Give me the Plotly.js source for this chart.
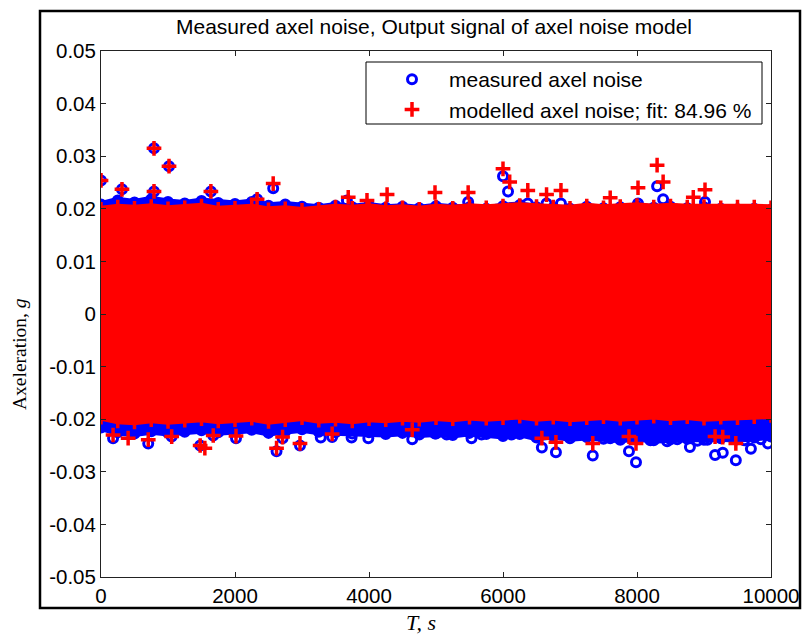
<!DOCTYPE html>
<html>
<head>
<meta charset="utf-8">
<script src="https://cdn.plot.ly/plotly-3.0.1.min.js"></script>
<style>
html,body{margin:0;padding:0;background:#fff;}
#chart{width:803px;height:636px;}
</style>
</head>
<body>
<div id="chart"></div>
<script>
// ---- data ----
// time grid of the dense band's envelope (s)
var envTime = [0,250,500,750,1000,1250,1500,1750,2000,2250,2500,2750,3000,3250,3500,3750,4000,4250,4500,4750,5000,5250,5500,5750,6000,6250,6500,6750,7000,7250,7500,7750,8000,8250,8500,8750,9000,9250,9500,9750,10000];
// measured axel noise: upper / lower envelope of the dense band (g)
var measUpper = [0.0208,0.0216,0.0212,0.0218,0.0213,0.0210,0.0215,0.0211,0.0209,0.0213,0.0206,0.0208,0.0204,0.0202,0.0206,0.0203,0.0206,0.0202,0.0204,0.0201,0.0205,0.0202,0.0203,0.0200,0.0205,0.0207,0.0203,0.0202,0.0200,0.0204,0.0201,0.0203,0.0205,0.0202,0.0204,0.0201,0.0203,0.0200,0.0199,0.0200,0.0198];
var measLower = [-0.0216,-0.0225,-0.0227,-0.0223,-0.0226,-0.0224,-0.0221,-0.0225,-0.0222,-0.0220,-0.0226,-0.0223,-0.0219,-0.0224,-0.0225,-0.0227,-0.0225,-0.0228,-0.0226,-0.0229,-0.0227,-0.0230,-0.0226,-0.0228,-0.0232,-0.0228,-0.0235,-0.0232,-0.0236,-0.0234,-0.0237,-0.0239,-0.0236,-0.0240,-0.0238,-0.0237,-0.0239,-0.0236,-0.0238,-0.0235,-0.0233];
// modelled axel noise: upper / lower envelope of the dense band (g)
var modelUpper = [0.0199,0.0203,0.0201,0.0204,0.0200,0.0202,0.0205,0.0199,0.0201,0.0203,0.0198,0.0200,0.0197,0.0199,0.0203,0.0201,0.0204,0.0200,0.0202,0.0199,0.0203,0.0201,0.0204,0.0202,0.0205,0.0206,0.0204,0.0203,0.0201,0.0205,0.0202,0.0204,0.0206,0.0203,0.0205,0.0203,0.0204,0.0202,0.0203,0.0203,0.0202];
var modelLower = [-0.0196,-0.0203,-0.0205,-0.0201,-0.0204,-0.0202,-0.0199,-0.0203,-0.0201,-0.0198,-0.0204,-0.0201,-0.0197,-0.0202,-0.0200,-0.0203,-0.0199,-0.0201,-0.0198,-0.0200,-0.0197,-0.0199,-0.0196,-0.0198,-0.0197,-0.0194,-0.0198,-0.0196,-0.0199,-0.0197,-0.0195,-0.0198,-0.0196,-0.0194,-0.0197,-0.0195,-0.0198,-0.0196,-0.0197,-0.0195,-0.0193];
// individual measured samples outside the band and at the record ends
var measT = [0,313,791,1015,791,1640,2330,2570,3670,6000,6075,6370,6650,6865,5480,8300,8015,9015,8390,
  180,705,1055,1480,1675,2015,2620,2710,2970,3280,3450,3740,3990,4645,4985,5160,5530,5680,6130,6580,6790,7340,7600,7880,7985,8790,9165,9280,9475,9700,9955,8200,8450,8600,8900,9050,9600,9850,
  0,0,0,0,0,0,10000,10000,10000,10000,10000,10000];
var measV = [0.0254,0.0237,0.0315,0.0281,0.0233,0.0233,0.0218,0.0239,0.0216,0.0262,0.0233,0.0210,0.0210,0.0210,0.0213,0.0243,0.0210,0.0213,0.0218,
  -0.0236,-0.0246,-0.0233,-0.0250,-0.0231,-0.0236,-0.0261,-0.0236,-0.0250,-0.0235,-0.0234,-0.0235,-0.0236,-0.0238,-0.0227,-0.0229,-0.0236,-0.0229,-0.0229,-0.0254,-0.0263,-0.0269,-0.0236,-0.0261,-0.0282,-0.0253,-0.0268,-0.0264,-0.0278,-0.0256,-0.0246,-0.0240,-0.0242,-0.0238,-0.0241,-0.0239,-0.0240,-0.0238,
  0.0160,0.0090,0.0020,-0.0050,-0.0120,-0.0180,0.0165,0.0095,0.0025,-0.0045,-0.0115,-0.0185];
// individual modelled samples outside the band and at the record ends
var modelT = [0,313,791,1015,791,1640,2330,2570,3690,3970,4270,6000,6100,6370,6650,6865,4985,5480,8300,8390,8015,9015,7600,8840,
  180,405,705,1055,1480,1550,1675,2015,2620,2710,2970,3450,4645,6580,6790,7340,7880,7985,9165,9280,9475,
  0,0,0,0,0,0,10000,10000,10000,10000,10000,10000];
var modelV = [0.0254,0.0237,0.0315,0.0281,0.0233,0.0233,0.0218,0.0248,0.0222,0.0216,0.0227,0.0276,0.0251,0.0235,0.0227,0.0235,0.0231,0.0231,0.0283,0.0251,0.0240,0.0236,0.0221,0.0222,
  -0.0230,-0.0236,-0.0239,-0.0233,-0.0250,-0.0255,-0.0231,-0.0232,-0.0255,-0.0234,-0.0246,-0.0228,-0.0220,-0.0236,-0.0244,-0.0246,-0.0233,-0.0246,-0.0233,-0.0234,-0.0246,
  0.0150,0.0085,0.0015,-0.0055,-0.0125,-0.0170,0.0155,0.0090,0.0020,-0.0050,-0.0120,-0.0175];
// tick labels
var xTickVals = [0,2000,4000,6000,8000,10000];
var xTickLabels = ['0','2000','4000','6000','8000','10000'];
var yTickVals = [-0.05,-0.04,-0.03,-0.02,-0.01,0,0.01,0.02,0.03,0.04,0.05];
var yTickLabels = ['-0.05','-0.04','-0.03','-0.02','-0.01','0','0.01','0.02','0.03','0.04','0.05'];
var chartTitle = 'Measured axel noise, Output signal of axel noise model';
var measName = 'measured axel noise';
var modelName = 'modelled axel noise; fit: 84.96 %';

// ---- styles ----
var BLUE = '#0000ff', RED = '#ff0000';
var circ = {symbol:'circle-open', size:9, color:BLUE, line:{color:BLUE, width:3}};
var plus = {symbol:'cross-thin-open', size:10.5, color:RED, line:{color:RED, width:3.5}};

var traces = [
  {x:envTime, y:measLower, mode:'lines+markers', line:{color:BLUE, width:7}, marker:circ, showlegend:false, hoverinfo:'skip'},
  {x:envTime, y:measUpper, mode:'lines+markers', line:{color:BLUE, width:7}, marker:circ, fill:'tonexty', fillcolor:BLUE, showlegend:false, hoverinfo:'skip'},
  {x:measT, y:measV, mode:'markers', marker:circ, name:measName},
  {x:envTime, y:modelLower, mode:'lines+markers', line:{color:RED, width:7}, marker:plus, showlegend:false, hoverinfo:'skip'},
  {x:envTime, y:modelUpper, mode:'lines+markers', line:{color:RED, width:7}, marker:plus, fill:'tonexty', fillcolor:RED, showlegend:false, hoverinfo:'skip'},
  {x:modelT, y:modelV, mode:'markers', marker:plus, name:modelName}
];

var F = 'Liberation Sans, Arial, sans-serif';
var S = 'Liberation Serif, Times New Roman, serif';
var L = 101, R = 32, T = 51, B = 59, W = 803 - L - R, H = 636 - T - B;
function px(x){ return (x - L) / W; }
function py(y){ return (636 - B - y) / H; }

var layout = {
  width:803, height:636,
  margin:{l:L, r:R, t:T, b:B, pad:0},
  paper_bgcolor:'#fff', plot_bgcolor:'#fff',
  font:{family:F, size:20.5, color:'#000'},
  title:{text:chartTitle, font:{family:F, size:21, color:'#000'}, x:px(434), xref:'paper', xanchor:'center', y:1 - 27/636, yanchor:'middle', yref:'container'},
  xaxis:{range:[0,10000], tickvals:xTickVals, ticktext:xTickLabels, ticks:'inside', ticklen:5, tickcolor:'#222',
    showline:true, linecolor:'#222', linewidth:1, mirror:'ticks', showgrid:false, zeroline:false,
    tickfont:{family:F, size:20.5, color:'#000'}, fixedrange:true},
  yaxis:{range:[-0.05,0.05], tickvals:yTickVals, ticktext:yTickLabels, ticks:'inside', ticklen:5, tickcolor:'#222',
    showline:true, linecolor:'#222', linewidth:1, mirror:'ticks', showgrid:false, zeroline:false,
    tickfont:{family:F, size:20.5, color:'#000'}, fixedrange:true},
  showlegend:true,
  legend:{x:px(375), xanchor:'left', y:py(59), yanchor:'top', bgcolor:'rgba(0,0,0,0)', borderwidth:0,
    traceorder:'normal', itemwidth:64, tracegroupgap:0, font:{family:F, size:21, color:'#000'}},
  shapes:[
    {type:'rect', xref:'paper', yref:'paper', x0:px(366), x1:px(762), y0:py(124), y1:py(62), line:{color:'#000', width:1}, fillcolor:'#fff', layer:'below'},
    {type:'rect', xref:'paper', yref:'paper', x0:px(40), x1:px(800), y0:py(608), y1:py(11), line:{color:'#000', width:2.5}, layer:'above'}
  ],
  annotations:[
    {text:'Axeleration, <i>g</i>', xref:'paper', yref:'paper', x:px(19), y:py(354), xanchor:'center', yanchor:'middle', textangle:-90, showarrow:false, font:{family:S, size:19.5, color:'#000'}},
    {text:'<i>T, s</i>', xref:'paper', yref:'paper', x:px(421), y:py(622), xanchor:'center', yanchor:'middle', showarrow:false, font:{family:S, size:22, color:'#000'}}
  ]
};

Plotly.newPlot('chart', traces, layout, {displayModeBar:false, staticPlot:true});
</script>
</body>
</html>
